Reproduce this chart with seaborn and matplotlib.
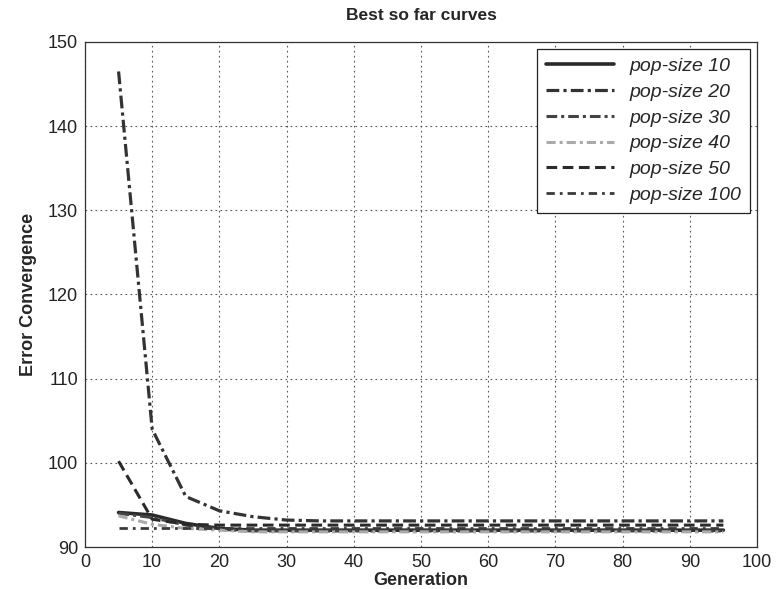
import numpy as np
import pandas as pd
import matplotlib
matplotlib.use("Agg")
import matplotlib.pyplot as plt
import seaborn as sns

# generations sampled every 5 steps
generation = [5, 10, 15, 20, 25, 30, 35, 40, 45, 50, 55, 60, 65, 70, 75, 80, 85, 90, 95]

pop10 = [94.1, 93.8, 92.8, 92.2, 92.0, 92.0, 92.0, 92.0, 92.0, 92.0,
         92.0, 92.0, 92.0, 92.0, 92.0, 92.0, 92.0, 92.0, 92.0]
pop20 = [146.5, 104.0, 96.0, 94.3, 93.6, 93.2, 93.1, 93.1, 93.1, 93.1,
         93.1, 93.1, 93.1, 93.1, 93.1, 93.1, 93.1, 93.1, 93.1]
pop30 = [94.0, 93.5, 92.6, 92.1, 91.9, 91.9, 91.9, 91.9, 91.9, 91.9,
         91.9, 91.9, 91.9, 91.9, 91.9, 91.9, 91.9, 91.9, 91.9]
pop40 = [93.7, 92.7, 92.2, 92.0, 91.8, 91.8, 91.8, 91.8, 91.8, 91.8,
         91.8, 91.8, 91.8, 91.8, 91.8, 91.8, 91.8, 91.8, 91.8]
pop50 = [100.2, 93.3, 92.7, 92.6, 92.6, 92.6, 92.6, 92.6, 92.6, 92.6,
         92.6, 92.6, 92.6, 92.6, 92.6, 92.6, 92.6, 92.6, 92.6]
pop100 = [92.3, 92.3, 92.3, 92.3, 92.3, 92.3, 92.3, 92.3, 92.3, 92.3,
          92.3, 92.3, 92.3, 92.3, 92.3, 92.3, 92.3, 92.3, 92.3]

labels = ["pop-size 10", "pop-size 20", "pop-size 30",
          "pop-size 40", "pop-size 50", "pop-size 100"]
series = [pop10, pop20, pop30, pop40, pop50, pop100]

sns.set_style("white")
plt.rcParams["font.family"] = ["Liberation Sans", "DejaVu Sans"]

fig = plt.figure(figsize=(7.76, 5.89), dpi=100)
ax = fig.add_axes([0.1095, 0.0713, 0.866, 0.8574])

styles = [
    dict(color="#2a2a2a", lw=2.6, dashes=None),
    dict(color="#333333", lw=2.3, dashes=(4, 1.3, 1, 1.3)),
    dict(color="#444444", lw=2.2, dashes=(3.5, 1.3, 1, 1.3)),
    dict(color="#aaaaaa", lw=2.2, dashes=(3, 1.3, 1, 1.3)),
    dict(color="#2a2a2a", lw=2.2, dashes=(3.5, 1.8)),
    dict(color="#3a3a3a", lw=2.0, dashes=(3, 1.8, 1, 1.8)),
]

for lab, vals, st in zip(labels, series, styles):
    df = pd.DataFrame({"Generation": generation, "Error": vals})
    sns.lineplot(data=df, x="Generation", y="Error", ax=ax,
                 color=st["color"], lw=st["lw"], label=lab)
    if st["dashes"] is not None:
        ax.get_lines()[-1].set_dashes(st["dashes"])

ax.set_xlim(0, 100)
ax.set_ylim(90, 150)
ax.set_xticks(np.arange(0, 101, 10))
ax.set_yticks(np.arange(90, 151, 10))
ax.tick_params(direction="in", length=4, labelsize=13, colors="#222222", pad=5)
ax.grid(True, linestyle=(0, (1.5, 3)), color="#555555", lw=0.8)
for sp in ax.spines.values():
    sp.set_color("#333333")
    sp.set_linewidth(0.9)

ax.set_title("Best so far curves", fontsize=12.5, fontweight="bold", pad=16)
ax.set_xlabel("Generation", fontsize=13, fontweight="bold", labelpad=1)
ax.set_ylabel("Error Convergence", fontsize=13, fontweight="bold", labelpad=8)

leg = ax.legend(loc="upper right", frameon=True, fancybox=False,
                handlelength=3.5, borderaxespad=0.35, labelspacing=0.42,
                borderpad=0.45, handletextpad=0.8,
                prop={"style": "italic", "size": 14})
leg.get_frame().set_edgecolor("#222222")
leg.get_frame().set_linewidth(0.9)
leg.get_frame().set_alpha(1)

fig.savefig("out.png", dpi=100)
